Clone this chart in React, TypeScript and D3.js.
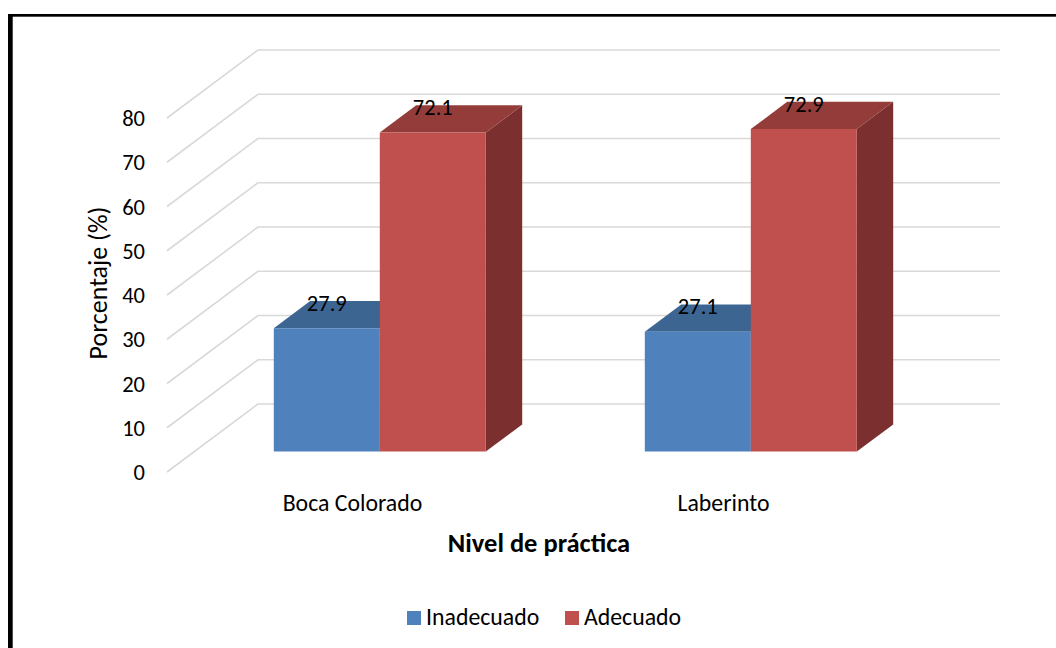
import React from "react";
import * as d3 from "d3";

const categories = ["Boca Colorado", "Laberinto"];
const seriesNames = ["Inadecuado", "Adecuado"];
const inadecuado = [27.9, 27.1];
const adecuado = [72.1, 72.9];
const yTicks = [0, 10, 20, 30, 40, 50, 60, 70, 80];
const yTitle = "Porcentaje (%)";
const xTitle = "Nivel de práctica";

const W = 1056;
const H = 648;
const FONT = "Carlito, Calibri, Lato, sans-serif";

const frontColors = ["#4F81BD", "#C0504D"];
const topColors = ["#3D6592", "#943C3A"];
const sideColors = ["#385D89", "#7B302F"];

export default function App() {
  // 3D geometry
  const depthDX = 91;
  const depthDY = -68;
  const barDepthStart = 0.3;
  const barDepthEnd = 0.7;

  const x0 = d3.scaleBand<string>().domain(categories).range([167, 909]).padding(0);
  const x1 = d3
    .scaleBand<string>()
    .domain(seriesNames)
    .range([0, x0.bandwidth()])
    .paddingInner(0)
    .paddingOuter(0.75);
  const y = d3.scaleLinear().domain([0, 80]).range([472, 118]);

  const series = [inadecuado, adecuado];

  const bdx0 = depthDX * barDepthStart;
  const bdy0 = depthDY * barDepthStart;
  const bdx1 = depthDX * barDepthEnd;
  const bdy1 = depthDY * barDepthEnd;
  const bdx = bdx1 - bdx0;
  const bdy = bdy1 - bdy0;

  const bars: React.ReactNode[] = [];
  const labels: React.ReactNode[] = [];
  categories.forEach((cat, ci) => {
    seriesNames.forEach((s, si) => {
      const v = series[si][ci];
      const xl = (x0(cat) as number) + (x1(s) as number) + bdx0;
      const xr = xl + x1.bandwidth();
      const yb = y(0) + bdy0;
      const yt = y(v) + bdy0;
      const front = `M${xl},${yt}L${xr},${yt}L${xr},${yb}L${xl},${yb}Z`;
      const top = `M${xl},${yt}L${xr},${yt}L${xr + bdx},${yt + bdy}L${xl + bdx},${yt + bdy}Z`;
      const side = `M${xr},${yt}L${xr + bdx},${yt + bdy}L${xr + bdx},${yb + bdy}L${xr},${yb}Z`;
      bars.push(
        <g key={`${ci}-${si}`}>
          <path d={side} fill={sideColors[si]} />
          <path d={top} fill={topColors[si]} />
          <path d={front} fill={frontColors[si]} />
        </g>
      );
      labels.push(
        <text
          key={`l${ci}-${si}`}
          x={(xl + xr) / 2}
          y={yt + bdy + 10}
          textAnchor="middle"
          fontSize={22.5}
          fontFamily={FONT}
          fill="#000"
        >
          {v.toFixed(1)}
        </text>
      );
    });
  });

  const fx = 167;
  const bx = fx + depthDX;
  const bxEnd = 909 + depthDX;

  return (
    <svg
      width={W}
      height={H}
      style={{ position: "absolute", left: 0, top: 0, background: "#fff" }}
    >
      <rect x={0} y={0} width={W} height={H} fill="#fff" />
      {/* frame */}
      <rect x={8} y={14} width={4.7} height={H - 14} fill="#000" />
      <rect x={8} y={14} width={W - 8} height={2.7} fill="#000" />

      {/* gridlines */}
      {yTicks.map((t) => (
        <path
          key={`g${t}`}
          d={`M${fx},${y(t)}L${bx},${y(t) + depthDY}L${bxEnd},${y(t) + depthDY}`}
          fill="none"
          stroke="#D9D9D9"
          strokeWidth={1.6}
        />
      ))}

      {/* tick labels */}
      {yTicks.map((t) => (
        <text
          key={`t${t}`}
          x={145}
          y={y(t) + 8}
          textAnchor="end"
          fontSize={22.5}
          fontFamily={FONT}
          fill="#000"
        >
          {t}
        </text>
      ))}

      <text
        transform={`translate(98,283) rotate(-90)`}
        textAnchor="middle"
        dominantBaseline="central"
        fontSize={26}
        fontFamily={FONT}
        fill="#000"
      >
        {yTitle}
      </text>

      {bars}
      {labels}

      {/* category labels */}
      {categories.map((c) => (
        <text
          key={c}
          x={(x0(c) as number) + x0.bandwidth() / 2}
          y={511}
          textAnchor="middle"
          fontSize={23.8}
          fontFamily={FONT}
          fill="#000"
        >
          {c}
        </text>
      ))}

      <text
        x={539}
        y={552}
        textAnchor="middle"
        fontSize={26.5}
        fontWeight="bold"
        fontFamily={FONT}
        fill="#000"
      >
        {xTitle}
      </text>

      {/* legend */}
      {seriesNames.map((s, i) => {
        const lx = [407, 565][i];
        return (
          <g key={s}>
            <rect x={lx} y={611} width={14} height={14} fill={frontColors[i]} />
            <text x={lx + 19} y={625} fontSize={23.8} fontFamily={FONT} fill="#000">
              {s}
            </text>
          </g>
        );
      })}
    </svg>
  );
}
